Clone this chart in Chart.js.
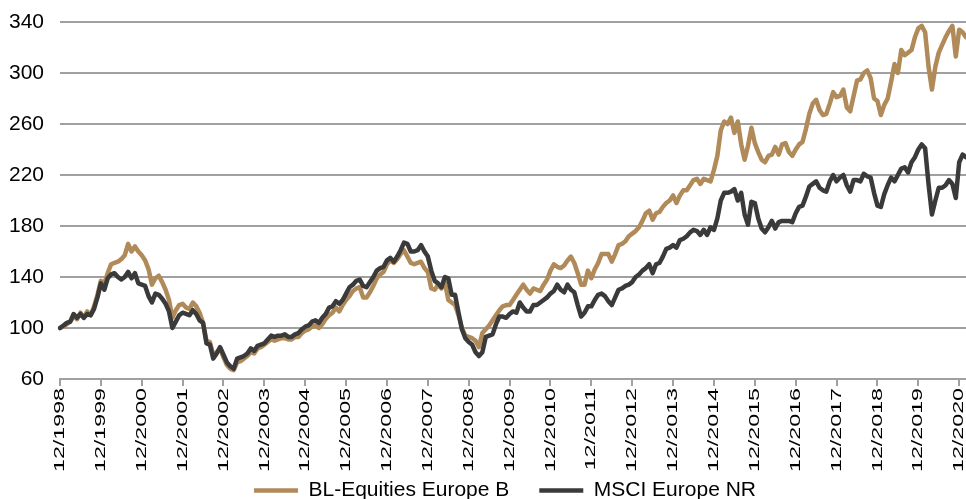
<!DOCTYPE html>
<html>
<head>
<meta charset="utf-8">
<script src="https://cdn.jsdelivr.net/npm/chart.js@4.4.1/dist/chart.umd.min.js"></script>
<style>
  html, body { margin: 0; padding: 0; background: #fff; }
</style>
</head>
<body>
<canvas id="perfChart" width="966" height="499"></canvas>
<script>
// monthly index values, rebased to 100 at 12/1998
const blEquities = [
  100,
  101, 103, 105, 109, 107, 112, 108, 113, 110, 117, 126, 137,
  135, 143, 150, 151, 152, 154, 157, 166, 160, 164, 160, 157,
  153, 146, 134, 139, 141, 136, 130, 122, 108, 114, 118, 119,
  116, 115, 120, 117, 112, 104, 90, 89, 79, 81, 84, 77,
  71, 68, 67, 73, 74, 76, 78, 81, 80, 84, 85, 87,
  89, 91, 90, 91, 92, 92, 91, 91, 93, 93, 96, 98,
  99, 101, 102, 100, 103, 107, 110, 112, 116, 113, 118, 122,
  125, 129, 131, 132, 124, 124, 128, 133, 139, 142, 144, 150,
  153, 151, 154, 158, 161, 156, 151, 150, 151, 152, 147, 144,
  131, 130, 134, 131, 136, 122, 120, 118, 110, 100, 94, 93,
  92, 90, 85, 96, 99, 102, 106, 110, 114, 117, 118, 118,
  122, 126, 130, 134, 130, 127, 131, 130, 129, 134, 138, 145,
  150, 148, 147, 149, 153, 156, 151, 143, 134, 134, 145, 139,
  146, 151, 158, 158, 158, 152, 158, 165, 166, 168, 172, 174,
  176, 179, 184, 190, 192, 185, 190, 191, 195, 198, 200, 204,
  198, 204, 208, 208, 212, 216, 217, 213, 217, 216, 215, 224,
  235, 255, 262, 260, 265, 253, 262, 244, 232, 243, 257, 245,
  238, 232, 230, 235, 236, 242, 236, 244, 245, 238, 235, 240,
  244, 246, 256, 268, 276, 279, 271, 267, 268, 276, 285, 281,
  282, 287, 273, 270, 282, 294, 295, 300, 302, 296, 280, 278,
  267, 275, 280, 293, 307, 300, 318, 314, 316, 318, 328, 335,
  337, 332, 305, 287, 305, 316, 322, 328, 333, 337, 313, 334,
  332, 328
];

const msciEurope = [
  100,
  102, 104, 105, 111, 108, 111, 108, 111, 110, 115, 124, 135,
  130, 139, 142, 143, 140, 138, 140, 144, 139, 143, 135, 134,
  133, 125, 120, 127, 126, 123, 119, 113, 100, 105, 110, 112,
  111, 110, 114, 111, 106, 104, 88, 87, 76, 80, 85, 79,
  73, 70, 68, 76, 77, 78, 80, 84, 82, 86, 87, 88,
  91, 94, 93, 94, 94, 95, 93, 93, 95, 96, 99, 101,
  102, 105, 106, 104, 108, 111, 116, 117, 121, 119, 122, 127,
  132, 134, 137, 138, 133, 132, 136, 140, 145, 147, 148, 153,
  155, 152, 156, 161, 167, 166, 160, 160, 161, 165, 160, 156,
  145, 137, 135, 132, 140, 139, 126, 126, 112, 99, 92, 89,
  87, 81, 78, 81, 93, 94, 95, 103, 109, 109, 108, 111,
  113, 112, 120, 116, 113, 113, 118, 118, 120, 122, 124, 127,
  129, 134, 130, 128, 134, 130, 128, 118, 109, 112, 117, 117,
  122, 126, 127, 125, 121, 118, 124, 130, 131, 133, 134, 136,
  140, 142, 145, 147, 150, 143, 150, 151, 156, 162, 163, 165,
  163, 169, 170, 172, 175, 177, 176, 173, 177, 173, 179, 177,
  186, 200, 206, 206, 207, 209, 200, 206, 189, 181, 199, 198,
  186, 178, 175, 179, 184, 178, 183, 184, 184, 184, 183, 190,
  195, 196, 203, 211, 213, 215, 210, 208, 207, 215, 220, 215,
  218, 220, 212, 207, 216, 216, 215, 221, 219, 218, 206, 196,
  195, 205, 212, 218, 215, 220, 225, 226, 222, 230, 234, 240,
  244, 241, 213, 189, 200, 210, 210, 212, 216, 213, 202, 230,
  236, 234
];

const seriesNames = ['BL-Equities Europe B', 'MSCI Europe NR'];
const yTicks = [60, 100, 140, 180, 220, 260, 300, 340];

// month labels, 12/1998 onwards
const months = [];
for (let i = 0; i < blEquities.length; i++) {
  const m = (11 + i) % 12 + 1;
  const y = 1998 + Math.floor((11 + i) / 12);
  months.push(String(m).padStart(2, '0') + '/' + y);
}

const FONT = '"Liberation Sans", Arial, sans-serif';

// x labels are drawn rotated and stretched along the text, like the original
const stretchedXLabels = {
  id: 'stretchedXLabels',
  afterDraw(chart) {
    const xs = chart.scales.x;
    const ctx = chart.ctx;
    ctx.save();
    ctx.fillStyle = '#000';
    ctx.font = '15px ' + FONT;
    ctx.textAlign = 'right';
    ctx.textBaseline = 'middle';
    xs.ticks.forEach(t => {
      const px = xs.getPixelForValue(t.value);
      ctx.save();
      ctx.translate(px, xs.top + 9);
      ctx.rotate(-Math.PI / 2);
      ctx.scale(1.55, 1);
      ctx.fillText(xs.getLabelForValue(t.value), 0, 0);
      ctx.restore();
    });
    ctx.restore();
  }
};

// nudge the legend down/right a bit
const legendShift = {
  id: 'legendShift',
  afterLayout(chart) {
    const lg = chart.legend;
    lg.top += 12; lg.bottom += 12;
    lg.left += 22; lg.right += 22;
  }
};

const ctx = document.getElementById('perfChart').getContext('2d');

const myChart = new Chart(ctx, {
  type: 'line',
  data: {
    labels: months,
    datasets: [
      {
        label: seriesNames[0],
        data: blEquities,
        borderColor: '#B08A58',
        backgroundColor: '#B08A58',
        borderWidth: 4.5,
        order: 1
      },
      {
        label: seriesNames[1],
        data: msciEurope,
        borderColor: '#3A3A3A',
        backgroundColor: '#3A3A3A',
        borderWidth: 4.5,
        order: 0
      }
    ]
  },
  options: {
    responsive: false,
    animation: false,
    devicePixelRatio: 1,
    elements: {
      point: { radius: 0, hoverRadius: 0 },
      line: { tension: 0, borderJoinStyle: 'round', borderCapStyle: 'round' }
    },
    layout: { padding: { top: 22, right: 0, left: 0, bottom: 0 } },
    scales: {
      x: {
        type: 'category',
        offset: false,
        afterBuildTicks(scale) {
          scale.ticks = scale.ticks.filter(t => months[t.value].startsWith('12/'));
        },
        afterFit(scale) { scale.height = 59; },
        ticks: { display: false, autoSkip: false },
        grid: {
          display: true,
          drawOnChartArea: false,
          drawTicks: true,
          tickLength: 7,
          color: '#A0A0A0',
          lineWidth: 2
        },
        border: { display: true, color: '#A0A0A0', width: 2 }
      },
      y: {
        min: 60,
        max: 340,
        afterBuildTicks(scale) {
          scale.ticks = yTicks.map(v => ({ value: v }));
        },
        afterFit(scale) {
          scale.width = 60;
          scale.paddingTop = 0;
          scale.paddingBottom = 0;
        },
        ticks: {
          color: '#000',
          padding: 16,
          font: { family: FONT, size: 21 }
        },
        grid: { color: '#A0A0A0', lineWidth: 2, drawTicks: false },
        border: { display: false }
      }
    },
    plugins: {
      tooltip: { enabled: false },
      legend: {
        position: 'bottom',
        labels: {
          usePointStyle: true,
          pointStyle: 'line',
          pointStyleWidth: 44,
          padding: 30,
          color: '#000',
          font: { family: FONT, size: 21 },
          sort: (a, b) => a.datasetIndex - b.datasetIndex
        }
      }
    }
  },
  plugins: [stretchedXLabels, legendShift]
});
</script>
</body>
</html>
